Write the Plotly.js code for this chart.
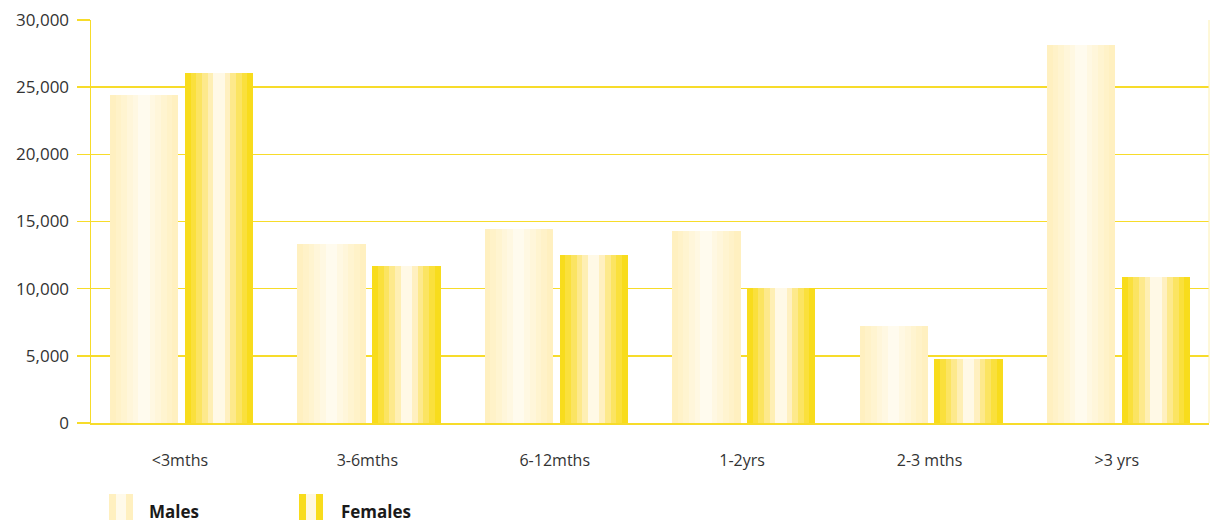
<!DOCTYPE html>
<html>
<head>
<meta charset="utf-8">
<script src="https://cdn.plot.ly/plotly-3.0.1.min.js"></script>
<style>html,body{margin:0;padding:0;background:#fff;}#chart{width:1210px;height:524px;}</style>
</head>
<body>
<div id="chart"></div>
<script>
var categories = ['<3mths', '3-6mths', '6-12mths', '1-2yrs', '2-3 mths', '>3 yrs'];
var males = [24400, 13300, 14450, 14300, 7220, 28150];
var females = [26050, 11700, 12500, 10050, 4770, 10870];
var yTicks = [0, 5000, 10000, 15000, 20000, 25000, 30000];

var maleStripes = ['#fff0c0','#fff2c8','#fff4d0','#fff6da','#fff8e2','#fffbee','#fffbee','#fff8e2','#fff6da','#fff4d0','#fff2c8','#fff0c0'];
var femaleStripes = ['#f8dc1c','#fae03c','#fbe462','#fde98c','#feefb4','#fff9e6','#fff9e6','#fff0c0','#fde98c','#fbe462','#fae03c','#f8dc1c'];

var barW = 0.363;
var n = 12;
var sw = barW / n;
var traces = [];
function addSeries(vals, stripes, start, name) {
  for (var k = 0; k < n; k++) {
    traces.push({
      type: 'bar', x: categories, y: vals, name: name,
      width: sw + 0.002, offset: start + k * sw,
      marker: {color: stripes[k], line: {width: 0}},
      showlegend: false, hoverinfo: 'skip'
    });
  }
}
addSeries(males, maleStripes, -0.395, 'Males');
addSeries(females, femaleStripes, 0.005, 'Females');

var L = 91, R = 1209, T = 20, B = 423;
function px(x) { return (x - L) / (R - L); }
function py(y) { return (B - y) / (B - T); }
function stripeRect(x0, x1, c) {
  return {type: 'rect', xref: 'paper', yref: 'paper', x0: px(x0), x1: px(x1), y0: py(520), y1: py(494), fillcolor: c, line: {width: 0}, layer: 'above'};
}
var yellow = '#f7dc2a';
var shapes = [
  stripeRect(109, 116.5, '#fff0c0'), stripeRect(116, 126.5, '#fffaea'), stripeRect(126, 133, '#fff0c0'),
  stripeRect(299, 306.5, '#f8dc1c'), stripeRect(306, 316.5, '#fff8e0'), stripeRect(316, 323, '#f8dc1c'),
  {type: 'line', xref: 'paper', yref: 'paper', x0: 1, x1: 1, y0: 0, y1: 1, line: {color: '#fdf0b0', width: 1}, layer: 'above'}
];
var annotations = [
  {xref: 'paper', yref: 'paper', x: px(147), y: py(511), text: '<b>Males</b>', showarrow: false, xanchor: 'left', yanchor: 'middle', font: {family: 'Open Sans, sans-serif', size: 17, color: '#1a1a1a'}},
  {xref: 'paper', yref: 'paper', x: px(339), y: py(511), text: '<b>Females</b>', showarrow: false, xanchor: 'left', yanchor: 'middle', font: {family: 'Open Sans, sans-serif', size: 17, color: '#1a1a1a'}}
];

var layout = {
  width: 1210, height: 524,
  margin: {l: L, r: 1210 - R, t: T, b: 524 - B, pad: 0},
  paper_bgcolor: '#ffffff', plot_bgcolor: '#ffffff',
  barmode: 'overlay', bargap: 0,
  showlegend: false, hovermode: false,
  font: {family: 'Open Sans, sans-serif', size: 16, color: '#333333'},
  xaxis: {
    type: 'category', range: [-0.496, 5.47], showgrid: false, showline: true,
    linecolor: yellow, linewidth: 1.5, ticks: '', ticklabelstandoff: 22, ticklabelshift: -4,
    tickfont: {family: 'Open Sans, sans-serif', size: 16, color: '#333333'}, zeroline: false, fixedrange: true
  },
  yaxis: {
    range: [0, 30000], tickvals: yTicks, tickformat: ',', showgrid: true, gridcolor: yellow, gridwidth: 1.5,
    showline: true, linecolor: yellow, linewidth: 1.5, ticks: 'outside', ticklen: 13,
    tickcolor: yellow, tickwidth: 1.5, zeroline: false, ticklabelstandoff: 4,
    tickfont: {family: 'Open Sans, sans-serif', size: 17, color: '#333333'}, fixedrange: true
  },
  shapes: shapes, annotations: annotations
};
Plotly.newPlot('chart', traces, layout, {displayModeBar: false, staticPlot: true});
</script>
</body>
</html>
